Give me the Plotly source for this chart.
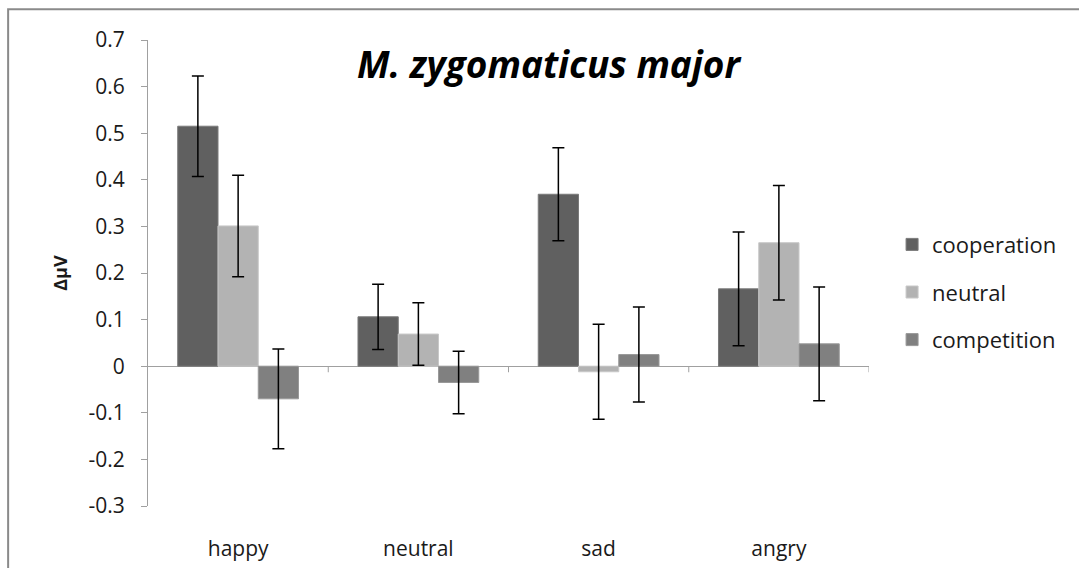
"""Grouped bar chart: M. zygomaticus major EMG response by emotion and context."""

import plotly.graph_objects as go

emotions = ["happy", "neutral", "sad", "angry"]
conditions = ["cooperation", "neutral", "competition"]

cooperation = [0.515, 0.106, 0.369, 0.166]
neutral = [0.301, 0.069, -0.012, 0.265]
competition = [-0.070, -0.035, 0.025, 0.048]

cooperation_err = [0.108, 0.070, 0.100, 0.122]
neutral_err = [0.109, 0.067, 0.102, 0.123]
competition_err = [0.107, 0.067, 0.102, 0.122]

y_ticks = [-0.3, -0.2, -0.1, 0, 0.1, 0.2, 0.3, 0.4, 0.5, 0.6, 0.7]
y_ticktext = ["-0.3", "-0.2", "-0.1", "0", "0.1", "0.2", "0.3", "0.4", "0.5", "0.6", "0.7"]

colors = ["#606060", "#b3b3b3", "#808080"]
edges = ["#7a7a7a", "#c8c8c8", "#999999"]

FONT = "'Open Sans', 'Noto Sans', sans-serif"

fig = go.Figure()
series = [(cooperation, cooperation_err), (neutral, neutral_err), (competition, competition_err)]
x_pos = list(range(len(emotions)))
for i, (name, (vals, errs)) in enumerate(zip(conditions, series)):
    fig.add_trace(
        go.Bar(
            x=x_pos,
            y=vals,
            name=name,
            legendgroup=name,
            marker=dict(color=colors[i], line=dict(color=edges[i], width=1)),
            error_y=dict(type="data", array=errs, color="black", thickness=1.5, width=6),
        )
    )

# category boundary tick marks hanging below the zero line
bx, by = [], []
for b in [0.5, 1.5, 2.5, 3.5]:
    bx += [b, b, None]
    by += [0, -0.013, None]
fig.add_trace(
    go.Scatter(
        x=bx, y=by, mode="lines", line=dict(color="#a0a0a0", width=1),
        hoverinfo="skip", showlegend=False,
    )
)

fig.update_layout(
    width=1079,
    height=568,
    margin=dict(l=148, r=210, t=40, b=62, autoexpand=False),
    paper_bgcolor="white",
    plot_bgcolor="white",
    font=dict(family=FONT, color="#1a1a1a", size=21),
    barmode="group",
    bargap=0.33,
    bargroupgap=0,
    showlegend=True,
    legend=dict(
        x=1.032, y=0.459, xanchor="left", yanchor="middle",
        font=dict(size=22), tracegroupgap=16, itemwidth=30,
        bgcolor="rgba(0,0,0,0)",
    ),
    xaxis=dict(
        range=[-0.5, 3.5],
        tickmode="array",
        tickvals=x_pos,
        ticktext=emotions,
        showline=False,
        showgrid=False,
        zeroline=False,
        ticks="",
        ticklabelstandoff=28,
        tickfont=dict(size=21),
        automargin=False,
    ),
    yaxis=dict(
        range=[-0.3, 0.7],
        tickmode="array",
        tickvals=y_ticks,
        ticktext=y_ticktext,
        showline=True,
        linecolor="#a0a0a0",
        linewidth=1,
        ticks="outside",
        ticklen=6,
        tickcolor="#a0a0a0",
        ticklabelstandoff=12,
        showgrid=False,
        zeroline=True,
        zerolinecolor="#a0a0a0",
        zerolinewidth=1,
        tickfont=dict(size=21),
        automargin=False,
        title=dict(text="<b>ΔμV</b>", font=dict(size=18), standoff=16),
    ),
    annotations=[
        dict(
            text="<b><i>M. zygomaticus major</i></b>",
            xref="paper", yref="paper", x=0.556, y=0.95,
            xanchor="center", yanchor="middle", showarrow=False,
            font=dict(size=37, color="black"),
        )
    ],
    shapes=[
        dict(
            type="rect", xref="paper", yref="paper",
            x0=-0.194, x1=1.6, y0=-0.4, y1=1.066,
            line=dict(color="#8a8a8a", width=2), layer="below",
        )
    ],
)

fig.write_html(
    "out.html",
    config={"displayModeBar": False},
    post_script="document.body.style.margin='0';",
)
